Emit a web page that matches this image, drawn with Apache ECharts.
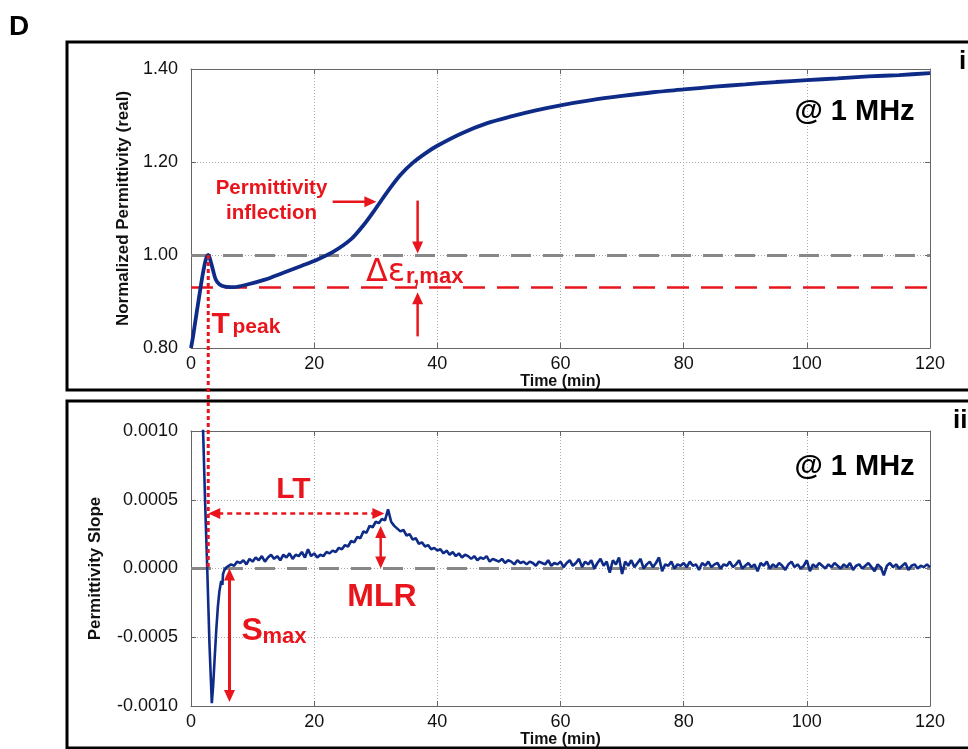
<!DOCTYPE html>
<html><head><meta charset="utf-8">
<script src="https://cdn.jsdelivr.net/npm/echarts@6/dist/echarts.min.js"></script>
<style>html,body{margin:0;padding:0;background:#fff}#c{width:968px;height:749px}</style>
</head><body><div id="c"></div>
<script>
// ---------- data ----------
const xTicks = [0, 20, 40, 60, 80, 100, 120];
// Panel i: normalized permittivity (real) @ 1 MHz
const timePerm = [0,0.3,0.7,1.2,1.9,2.4,2.8,3.2,3.6,4.0,4.6,5.5,7,9,12,15,18,20,23,26,28,30,32,34,36,38,40,44,48,52,56,60,65,70,75,80,85,90,95,100,105,110,115,120];
const valuePerm = [0.800,0.822,0.857,0.900,0.958,0.990,1.000,0.986,0.966,0.948,0.937,0.932,0.931,0.936,0.947,0.962,0.977,0.987,1.006,1.034,1.064,1.100,1.138,1.172,1.198,1.218,1.235,1.262,1.283,1.298,1.311,1.322,1.333,1.342,1.350,1.356,1.362,1.367,1.372,1.376,1.380,1.384,1.387,1.391];
const peakLevel = 1.00;
const dipLevel = 0.928;
const tPeak = 2.8;
// Panel ii: permittivity slope, in units of 1e-5
const timeSlopeEarly = [1.0,1.5,1.92,2.3,2.63,3.0,3.38,3.6,3.82,4.1,4.36,4.6,4.9,5.1,5.2,5.44,5.8];
const valueSlopeEarly = [350,200,107,47,1,-55,-98,-85,-67,-45,-28,-17,-9,-12,-4,-1,1];
const slopeStart = 6.0, slopeStep = 0.5;
const valueSlopeLate = [
 1,3,2,5,4,6,3,7,5,8,6,9,5,8,10,7,9,6,10,8,11,7,10,9,12,8,14,9,11,8,10,9,12,11,13,12,15,14,17,16,
 20,19,23,22,27,26,31,30,34,33,36,35,43,34,31,29,27,28,24,25,21,22,18,19,16,17,14,15,13,14,
 11,13,10,12,9,11,8,10,9,7,9,6,8,7,9,5,7,6,5,7,4,6,5,3,6,4,5,3,5,4,
 2,5,4,3,6,2,4,3,5,1,4,6,2,4,7,1,5,3,6,0,4,7,2,5,-3,6,3,8,-4,5,
 2,6,1,4,7,0,3,5,1,4,8,-2,3,2,5,0,3,2,4,1,5,2,3,-1,4,2,5,1,3,4,
 0,3,2,5,1,3,6,0,2,4,1,3,-2,4,2,5,0,3,1,4,2,-1,3,5,1,3,0,2,6,-2,
 3,1,4,2,0,3,1,4,2,0,3,1,4,-1,2,3,0,2,4,1,-2,3,1,-5,2,4,1,3,0,2,
 4,-1,2,3,0,2,1,3,1];
const slopeTicks = [-100, -50, 0, 50, 100];

// ---------- build ----------
const RED = '#e8161c', NAVY = '#0f2b88';
const FONT = "'Liberation Sans', Arial, Helvetica, sans-serif";
const permData = timePerm.map((t, i) => [t, valuePerm[i]]);
const slopeData = timeSlopeEarly.map((t, i) => [t, valueSlopeEarly[i]])
  .concat(valueSlopeLate.map((v, i) => [slopeStart + i * slopeStep, v]));

const chart = echarts.init(document.getElementById('c'), null, {renderer: 'canvas'});

function xAx(grid, pos, name, gap) {
  const main = pos === 'bottom';
  return {
    gridIndex: grid, type: 'value', position: pos, min: 0, max: 120, interval: 20,
    axisLine: {show: true, onZero: false, lineStyle: {color: '#666', width: 1}},
    axisTick: {show: true, inside: true, length: 5, lineStyle: {color: '#666'}},
    axisLabel: {show: main, fontSize: 18, color: '#111', fontFamily: FONT, margin: 7, showMinLabel: true, showMaxLabel: true},
    splitLine: {show: main, lineStyle: {color: '#aaa', type: [1, 2], width: 1}},
    name: main ? name : '', nameLocation: 'middle', nameGap: gap,
    nameTextStyle: {fontWeight: 'bold', fontSize: 16, color: '#111', fontFamily: FONT}
  };
}
function yAx(grid, pos, min, max, interval, fmt, name, gap) {
  const main = pos === 'left';
  return {
    gridIndex: grid, type: 'value', position: pos, min, max, interval,
    axisLine: {show: true, onZero: false, lineStyle: {color: '#666', width: 1}},
    axisTick: {show: true, inside: true, length: 5, lineStyle: {color: '#666'}},
    axisLabel: {show: main, fontSize: 18, color: '#111', fontFamily: FONT, margin: 13, formatter: fmt, showMinLabel: true, showMaxLabel: true},
    splitLine: {show: main, lineStyle: {color: '#aaa', type: [1, 2], width: 1}},
    name: main ? name : '', nameLocation: 'middle', nameGap: gap, nameRotate: 90,
    nameTextStyle: {fontWeight: 'bold', fontSize: 17, color: '#111', fontFamily: FONT}
  };
}

chart.setOption({
  animation: false,
  backgroundColor: '#fff',
  grid: [
    {left: 191, right: 38, top: 69, height: 279},
    {left: 191, right: 38, top: 431, height: 275}
  ],
  xAxis: [xAx(0, 'bottom', 'Time (min)', 22), xAx(0, 'top'), xAx(1, 'bottom', 'Time (min)', 25), xAx(1, 'top')],
  yAxis: [
    yAx(0, 'left', 0.8, 1.4, 0.2, v => v.toFixed(2), 'Normalized Permittivity (real)', 57),
    yAx(0, 'right', 0.8, 1.4, 0.2),
    yAx(1, 'left', -100, 100, 50, v => (v / 100000).toFixed(4), 'Permittivity Slope', 87),
    yAx(1, 'right', -100, 100, 50)
  ],
  series: [
    {type: 'line', xAxisIndex: 0, yAxisIndex: 0, data: permData, showSymbol: false, smooth: 0.3,
     lineStyle: {color: NAVY, width: 3.8}, z: 5, clip: true,
     markLine: {silent: true, symbol: 'none', label: {show: false},
       data: [
         {yAxis: peakLevel, lineStyle: {color: '#888', width: 3, type: [20, 12]}},
         {yAxis: dipLevel, lineStyle: {color: RED, width: 2.5, type: [22, 12]}}
       ]}},
    {type: 'line', xAxisIndex: 2, yAxisIndex: 2, data: slopeData, showSymbol: false,
     lineStyle: {color: NAVY, width: 2.6}, z: 5, clip: true,
     markLine: {silent: true, symbol: 'none', label: {show: false},
       data: [{yAxis: 0, lineStyle: {color: '#888', width: 3, type: [20, 12]}}]}}
  ]
});

// ---------- annotations ----------
const P0 = (x, y) => chart.convertToPixel({xAxisIndex: 0, yAxisIndex: 0}, [x, y]);
const P1 = (x, y) => chart.convertToPixel({xAxisIndex: 2, yAxisIndex: 2}, [x, y]);
const G = [];
function txt(x, y, text, size, opts) {
  opts = opts || {};
  G.push({type: 'text', x, y, z: 110, style: {text, fontSize: size, fontWeight: opts.weight || 'bold',
    fontFamily: opts.family || FONT, fill: opts.color || RED, align: opts.align || 'left', verticalAlign: 'middle',
    lineHeight: opts.lineHeight}});
}
function head(tip, from, color) {
  const dx = tip[0] - from[0], dy = tip[1] - from[1], L = Math.hypot(dx, dy);
  const ux = dx / L, uy = dy / L, len = 12, hw = 5.5;
  const bx = tip[0] - ux * len, by = tip[1] - uy * len;
  G.push({type: 'polygon', z: 111, shape: {points: [tip, [bx - uy * hw, by + ux * hw], [bx + uy * hw, by - ux * hw]]}, style: {fill: color}});
  return [bx + ux * 2, by + uy * 2];
}
function arrow(a, b, both, dash, width) {
  let e = head(b, a, RED);
  let s = both ? head(a, b, RED) : a;
  G.push({type: 'line', z: 110, shape: {x1: s[0], y1: s[1], x2: e[0], y2: e[1]},
    style: {stroke: RED, lineWidth: width || 2.5, lineDash: dash || null}});
}

// frames and panel letters
G.push({type: 'rect', z: 1, shape: {x: 67, y: 42, width: 960, height: 348}, style: {fill: 'none', stroke: '#000', lineWidth: 3}});
G.push({type: 'rect', z: 1, shape: {x: 67, y: 401, width: 960, height: 347}, style: {fill: 'none', stroke: '#000', lineWidth: 3}});
txt(9, 27, 'D', 28, {color: '#000'});
txt(959, 62, 'i', 26, {color: '#000'});
txt(953, 421, 'ii', 26, {color: '#000'});

// T_peak dotted connector
{
  const a = P0(tPeak, peakLevel), b = P1(tPeak, 0);
  G.push({type: 'line', z: 112, shape: {x1: a[0], y1: a[1], x2: b[0], y2: b[1]}, style: {stroke: RED, lineWidth: 3, lineDash: [4, 3]}});
}
// panel i annotations
{
  const c = P0(13.07, 1.1168);
  txt(c[0], c[1], 'Permittivity\ninflection', 20.5, {align: 'center', lineHeight: 25});
  arrow(P0(23.0, 1.1146), P0(30.1, 1.1146));
  arrow(P0(36.8, 1.117), P0(36.8, 1.003));
  arrow(P0(36.8, 0.825), P0(36.8, 0.920));
  const d = P0(28.4, 0.962);
  txt(d[0], d[1], 'Δε', 32, {weight: 'normal', family: "'DejaVu Sans', " + FONT});
  txt(d[0] + 40, d[1] + 4, 'r,max', 22);
  const t = P0(3.33, 0.851);
  txt(t[0], t[1], 'T', 30);
  txt(t[0] + 21, t[1] + 3, 'peak', 21);
  const m = P0(117.5, 1.307);
  txt(m[0], m[1], '@ 1 MHz', 29, {color: '#000', align: 'right'});
}
// panel ii annotations
{
  const m = P1(117.5, 73.9);
  txt(m[0], m[1], '@ 1 MHz', 29, {color: '#000', align: 'right'});
  const lt = P1(16.64, 57.5);
  txt(lt[0], lt[1], 'LT', 30, {align: 'center'});
  arrow(P1(tPeak, 40), P1(31.4, 40), true, [5, 4], 2.5);
  arrow(P1(30.8, 31), P1(30.8, 0), true, null, 2.5);
  const ml = P1(31.0, -21);
  txt(ml[0], ml[1], 'MLR', 32, {align: 'center'});
  arrow(P1(6.25, 0), P1(6.25, -97), true, null, 3);
  const s = P1(8.2, -45.6);
  txt(s[0], s[1], 'S', 32);
  txt(s[0] + 21, s[1] + 6, 'max', 22);
}
chart.setOption({graphic: G});
</script>
</body></html>
